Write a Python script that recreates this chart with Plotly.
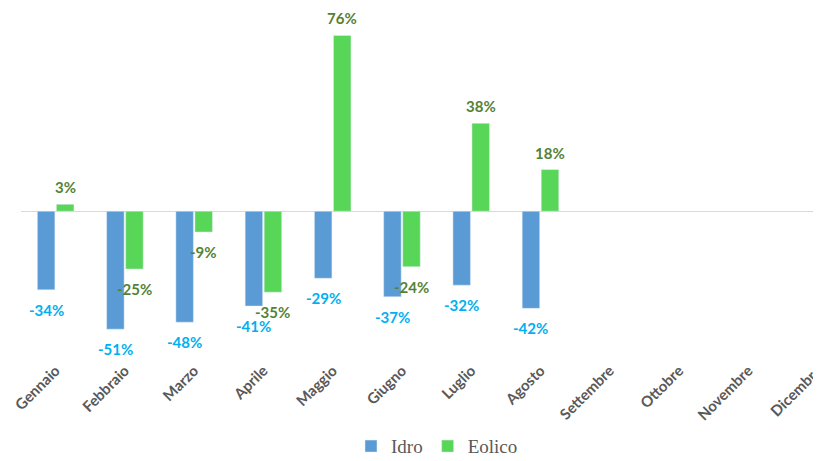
import plotly.graph_objects as go

months = ["Gennaio", "Febbraio", "Marzo", "Aprile", "Maggio", "Giugno",
          "Luglio", "Agosto", "Settembre", "Ottobre", "Novembre", "Dicembre"]
idro = [-34, -51, -48, -41, -29, -37, -32, -42, None, None, None, None]
eolico = [3, -25, -9, -35, 76, -24, 38, 18, None, None, None, None]

# layout constants
W, H = 813, 453            # page body adds an 8px offset
ML, MR, MT, MB = 13, 0, 2, 111
XR = [-0.5, 11.05]
BARGAP = 0.45
px_per_cat = (W - ML - MR) / (XR[1] - XR[0])
slot = (1 - BARGAP) / 2 * px_per_cat

fig = go.Figure()
fig.add_trace(go.Bar(x=months, y=idro, name="Idro", marker_color="#5B9BD5"))
fig.add_trace(go.Bar(x=months, y=eolico, name="Eolico", marker_color="#57D657"))

annotations = []
for vals, color, sgn in ((idro, "#00B0F0", -1), (eolico, "#548235", 1)):
    for m, v in zip(months, vals):
        if v is None:
            continue
        annotations.append(dict(
            x=m, y=v, xref="x", yref="y", text=f"{v}%", showarrow=False,
            xshift=sgn * slot / 2, yshift=17 if v >= 0 else -20,
            xanchor="center", yanchor="middle",
            font=dict(color=color, size=15, family="Lato", weight="bold"),
        ))

fig.update_layout(
    width=W, height=H,
    margin=dict(l=ML, r=MR, t=MT, b=MB, autoexpand=False),
    plot_bgcolor="white", paper_bgcolor="white",
    barmode="group", bargap=BARGAP, bargroupgap=0.08,
    showlegend=True,
    legend=dict(orientation="h", x=0.52, xanchor="center", y=-0.283, yanchor="middle",
                font=dict(family="Liberation Sans Narrow", size=19, color="#595959"),
                itemwidth=30, tracegroupgap=0),
    xaxis=dict(range=XR, tickangle=-45, showgrid=False, showline=False,
               ticks="", automargin=False, ticklabelstandoff=8,
               tickfont=dict(family="Lato", size=15, color="#595959", weight="bold")),
    yaxis=dict(range=[-60, 87], showgrid=False, showticklabels=False,
               zeroline=True, zerolinecolor="#D9D9D9", zerolinewidth=1.3,
               automargin=False),
    annotations=annotations,
)

fig.write_html("out.html")
